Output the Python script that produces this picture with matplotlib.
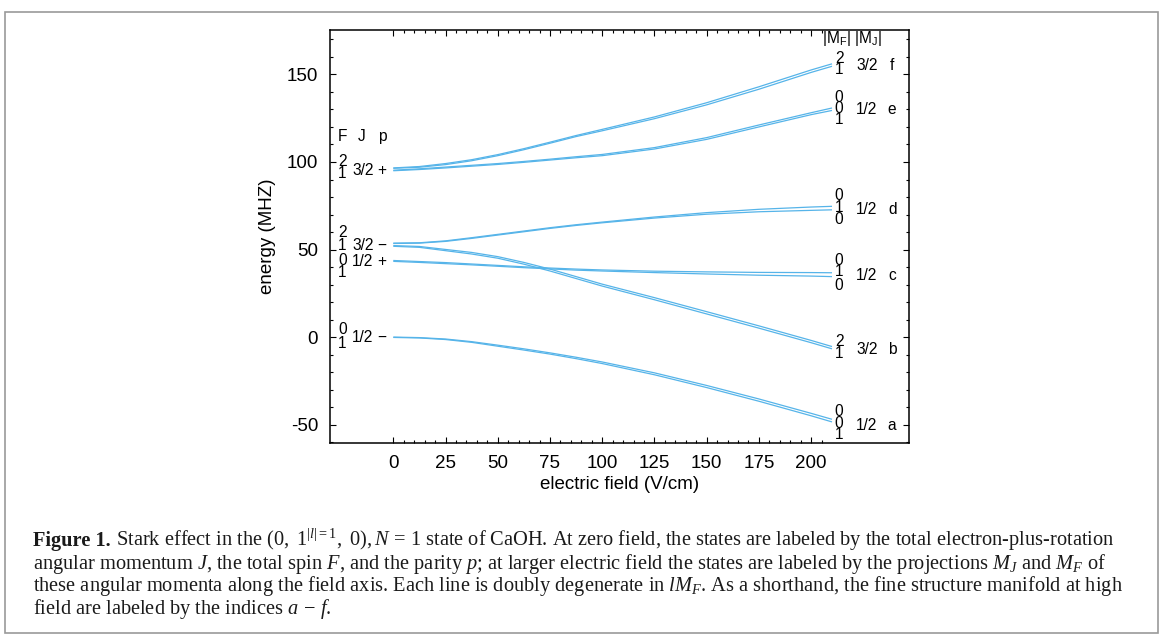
import numpy as np
import matplotlib
matplotlib.use('Agg')
import matplotlib.pyplot as plt
from matplotlib.patches import Rectangle
from matplotlib.ticker import FixedLocator

plt.rcParams['font.family'] = ['Liberation Sans', 'DejaVu Sans']
plt.rcParams['axes.unicode_minus'] = False
plt.rcParams['mathtext.fontset'] = 'custom'
plt.rcParams['mathtext.rm'] = 'Liberation Serif'
plt.rcParams['mathtext.it'] = 'Liberation Serif:italic'
plt.rcParams['mathtext.bf'] = 'Liberation Serif:bold'

# ---- Stark shifts of the N=1 manifold (MHz) vs. electric field (V/cm) ----
field = [0, 12.5, 25, 37.5, 50, 62.5, 75, 87.5, 100, 125, 150, 175, 200, 210]

# each manifold is drawn as a pair of nearly degenerate levels
f_hi = [96.6, 97.4, 99.1, 101.3, 104.2, 107.6, 111.3, 115.1, 118.6, 125.7, 133.8, 142.9, 152.5, 156.0]
f_lo = [96.4, 97.0, 98.5, 100.7, 103.6, 107.0, 110.7, 114.5, 117.8, 124.7, 132.6, 141.5, 151.1, 154.6]
e_hi = [95.3, 96.1, 97.1, 98.1, 99.1, 100.3, 101.6, 103.0, 104.3, 108.2, 113.9, 121.1, 128.1, 130.8]
e_lo = [95.0, 95.7, 96.6, 97.6, 98.6, 99.8, 101.1, 102.4, 103.6, 107.4, 112.9, 120.0, 127.0, 129.4]
d_hi = [53.7, 53.9, 55.0, 56.8, 58.7, 60.6, 62.5, 64.2, 65.7, 68.6, 71.1, 73.0, 74.3, 74.7]
d_lo = [53.5, 53.7, 54.7, 56.4, 58.3, 60.2, 62.1, 63.8, 65.3, 68.0, 70.2, 71.6, 72.4, 72.7]
c_hi = [43.8, 43.2, 42.6, 41.8, 41.0, 40.2, 39.5, 38.9, 38.4, 37.7, 37.3, 37.0, 36.9, 36.8]
c_lo = [43.3, 42.7, 42.0, 41.3, 40.5, 39.7, 39.0, 38.3, 37.8, 36.9, 36.1, 35.4, 34.9, 34.6]
b_hi = [52.3, 51.8, 50.1, 48.4, 46.0, 42.7, 38.9, 34.6, 30.3, 22.6, 14.6, 6.5, -1.8, -5.3]
b_lo = [51.9, 51.3, 49.4, 47.5, 45.1, 41.7, 37.8, 33.5, 29.2, 21.4, 13.3, 5.2, -3.1, -6.6]
a_hi = [0.1, -0.2, -1.0, -2.5, -4.5, -6.6, -8.9, -11.4, -14.1, -20.3, -27.5, -35.2, -43.4, -46.8]
a_lo = [-0.1, -0.4, -1.3, -2.9, -5.1, -7.3, -9.6, -12.2, -15.0, -21.4, -28.7, -36.5, -44.8, -48.3]

levels = [f_hi, f_lo, e_hi, e_lo, d_hi, d_lo, c_hi, c_lo, b_hi, b_lo, a_hi, a_lo]

LINE_COLOR = '#56B4E9'
W, H = 1168, 644

fig = plt.figure(figsize=(W / 100, H / 100), dpi=100)
ax = fig.add_axes([330 / W, 1 - 443.3 / H, (909.3 - 330) / W, (443.3 - 30) / H])

for lev in levels:
    ax.plot(field, lev, color=LINE_COLOR, lw=0.9, solid_capstyle='butt')

ax.set_xlim(-30.3, 247)
ax.set_ylim(-60.5, 175.3)

# gnuplot-like frame: inward ticks on all four sides
ax.xaxis.set_major_locator(FixedLocator(np.arange(0, 201, 25)))
ax.xaxis.set_minor_locator(FixedLocator(np.arange(0, 206, 5)))
ax.yaxis.set_major_locator(FixedLocator(np.arange(-50, 151, 50)))
ax.yaxis.set_minor_locator(FixedLocator(np.arange(-60, 171, 10)))
ax.tick_params(which='both', direction='in', top=True, right=True, width=0.8, colors='black')
ax.tick_params(which='major', length=4.5, labelsize=13.5, pad=8.5)
ax.tick_params(which='minor', length=2.4)
for sp in ax.spines.values():
    sp.set_linewidth(1.1)

ax.set_xlabel('electric field (V/cm)', fontsize=13.5, labelpad=3)
ax.set_ylabel('energy (MHZ)', fontsize=13.5, labelpad=8)

# ---- zero-field labels: F, J, p ----
fs = 11.2
ax.text(-24.4, 114.4, 'F', fontsize=fs, ha='center', va='center')
ax.text(-15.3, 114.4, 'J', fontsize=fs, ha='center', va='center')
ax.text(-5.4, 114.4, 'p', fontsize=fs, ha='center', va='center')

left_labels = [
    # (F upper, y), (F lower, y), (J, p, y)
    (('2', 100.2), ('1', 93.2), ('3/2', '+', 95.3)),
    (('2', 59.7), ('1', 52.4), ('3/2', '\u2212', 52.4)),
    (('0', 43.8), ('1', 36.9), ('1/2', '+', 43.0)),
    (('0', 4.2), ('1', -3.4), ('1/2', '\u2212', 0.0)),
]
for up, lo, (jj, pp, yj) in left_labels:
    ax.text(-24.4, up[1], up[0], fontsize=fs, ha='center', va='center')
    ax.text(-24.4, lo[1], lo[0], fontsize=fs, ha='center', va='center')
    ax.text(-19.6, yj, jj, fontsize=fs, ha='left', va='center')
    ax.text(-5.4, yj, pp, fontsize=fs, ha='center', va='center')

# ---- high-field labels: |MF|, |MJ| and manifold index ----
ax.text(219.8, 170.6, r'|M$_\mathregular{F}$| |M$_\mathregular{J}$|', fontsize=fs,
        ha='center', va='center')

right_labels = [
    (['2', '1'], [159.2, 152.5], '3/2', 'f', 155.3),
    (['0', '0', '1'], [136.9, 130.6, 124.0], '1/2', 'e', 130.1),
    (['0', '1', '0'], [80.6, 74.2, 66.9], '1/2', 'd', 73.0),
    (['0', '1', '0'], [43.7, 37.4, 29.8], '1/2', 'c', 35.5),
    (['2', '1'], [-2.5, -9.1], '3/2', 'b', -7.2),
    (['0', '0', '1'], [-42.4, -49.1, -55.7], '1/2', 'a', -50.6),
]
for digits, ys, mj, idx, yl in right_labels:
    for d, yd in zip(digits, ys):
        ax.text(213.4, yd, d, fontsize=fs, ha='center', va='center')
    ax.text(221.6, yl, mj, fontsize=fs, ha='left', va='center')
    ax.text(238.8, yl, idx, fontsize=fs, ha='center', va='center')

# ---- caption frame and text ----
fig.patches.append(Rectangle((5 / W, 1 - 633 / H), (1158 - 5) / W, (633 - 12) / H,
                             transform=fig.transFigure, fill=False,
                             edgecolor='#9a9a9a', lw=1.2))

caption_head = 'Figure 1.'
caption = [
    r' Stark effect in the $(0,\ 1^{|l|=1},\ 0), N\,=\,1$ state of CaOH. '
    r'At zero field, the states are labeled by the total electron-plus-rotation',
    r'angular momentum $J$, the total spin $F$, and the parity $p$; at larger electric field '
    r'the states are labeled by the projections $M_J$ and $M_F$ of',
    r'these angular momenta along the field axis. Each line is doubly degenerate in $lM_F$. '
    r'As a shorthand, the fine structure manifold at high',
    r'field are labeled by the indices $a\,-\,f$.',
]
baselines = [546, 568.5, 591.5, 614]
x0 = 33
head = fig.text(x0 / W, 1 - baselines[0] / H, caption_head, fontsize=12,
                family='Liberation Serif', weight='bold', ha='left', va='baseline',
                color='#1a1a1a')
cap_texts = []
for line, yb in zip(caption, baselines):
    t = fig.text(x0 / W, 1 - yb / H, line, fontsize=12, family='Liberation Serif',
                 ha='left', va='baseline', color='#1a1a1a')
    cap_texts.append(t)

# scale caption font so the full-width lines span the text block
fig.canvas.draw()
renderer = fig.canvas.get_renderer()
w_head = head.get_window_extent(renderer).width
w_first = w_head + cap_texts[0].get_window_extent(renderer).width
w_third = cap_texts[2].get_window_extent(renderer).width
scale = (1117 - x0) / (0.5 * (w_first + w_third))
head.set_fontsize(12 * scale)
for t in cap_texts:
    t.set_fontsize(12 * scale)
fig.canvas.draw()
w_head = head.get_window_extent(renderer).width
cap_texts[0].set_x((x0 + w_head) / W)

fig.savefig('out.png', dpi=100)
